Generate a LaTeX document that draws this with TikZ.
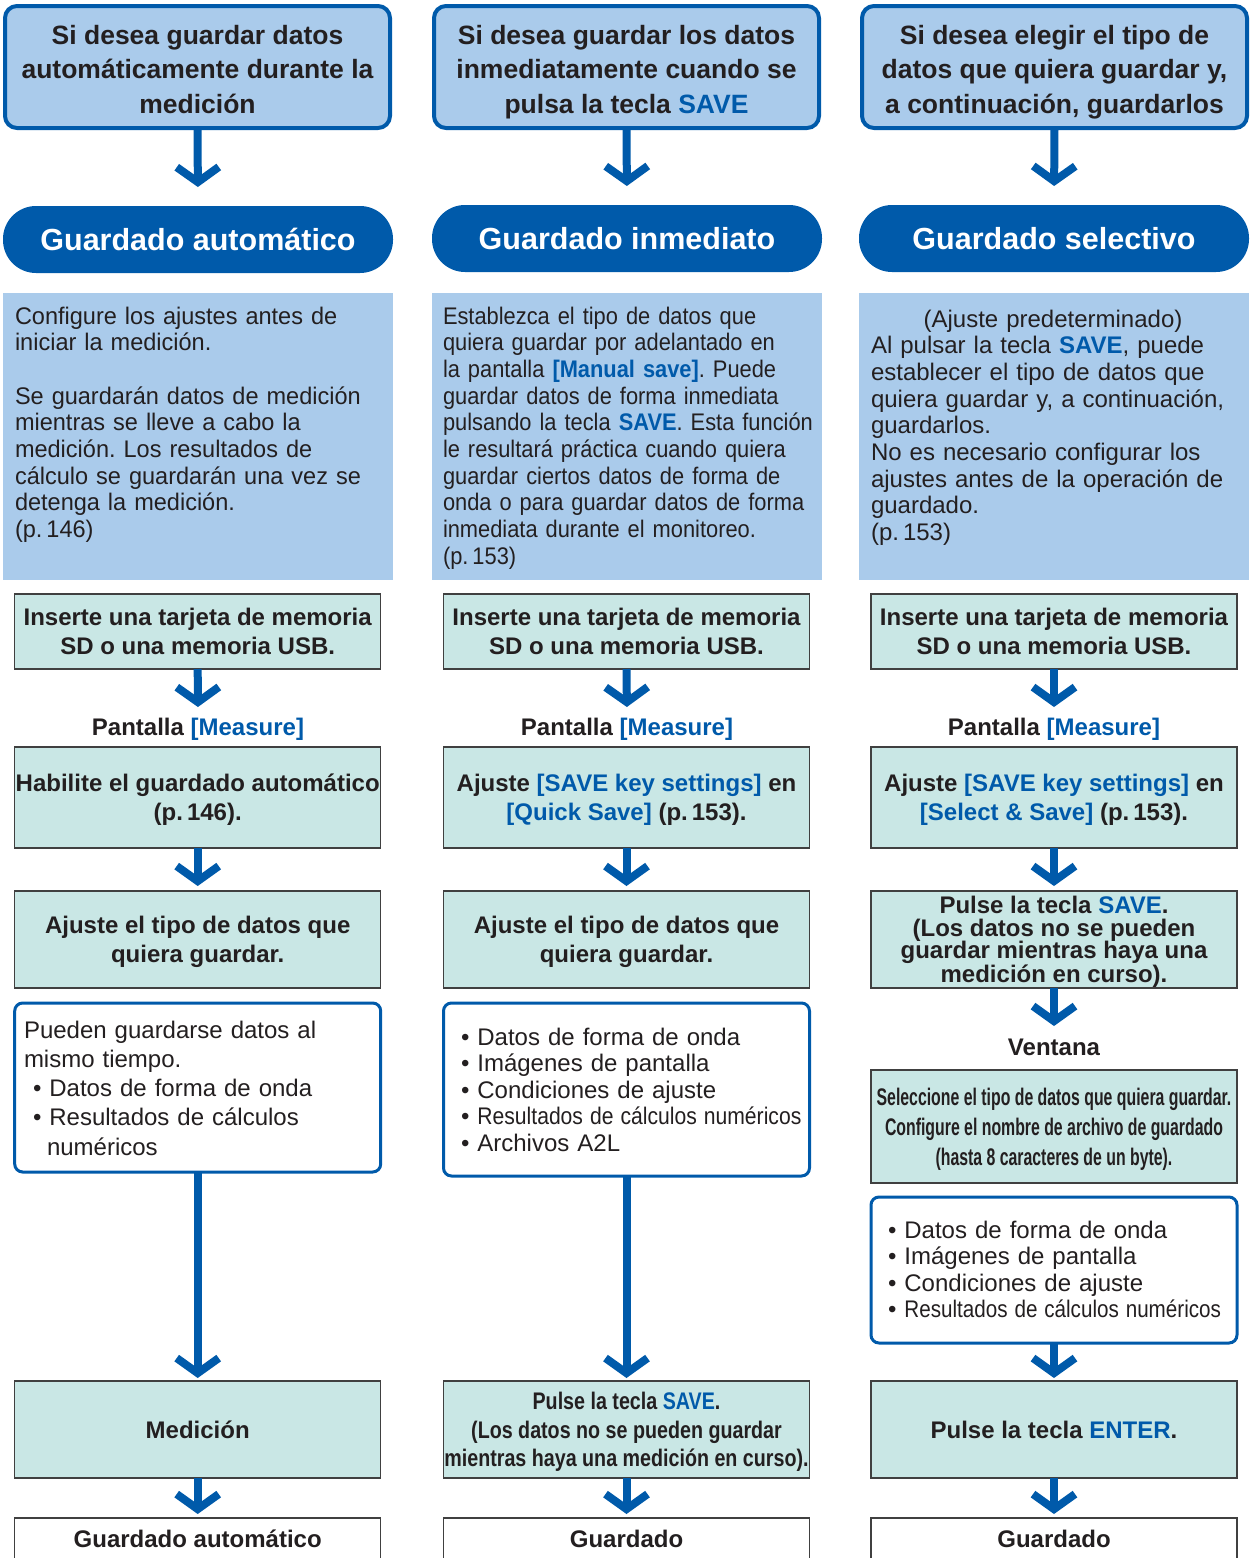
\documentclass[tikz,border=0pt]{standalone}
\usepackage{fontspec}
\usepackage{graphicx}
\setmainfont{Liberation Sans}
\newfontfamily\condfont[FakeStretch=0.66]{Liberation Sans}
\newfontfamily\semicondfont[FakeStretch=0.82]{Liberation Sans}
\newfontfamily\desccondfont[FakeStretch=0.91]{Liberation Sans}
\newfontfamily\descslightfont[FakeStretch=0.98]{Liberation Sans}
\usetikzlibrary{arrows.meta}
\definecolor{dblue}{RGB}{0,90,170}
\definecolor{lblue}{RGB}{170,203,235}
\definecolor{tealbox}{RGB}{201,231,229}
\definecolor{ink}{RGB}{35,31,32}
\definecolor{boxline}{RGB}{64,64,64}
\newcommand{\hl}[1]{\textcolor{dblue}{#1}}
\frenchspacing
\begin{document}
\frenchspacing
\begin{tikzpicture}[x=1pt,y=-1pt,
 every node/.style={text=ink, outer sep=0pt},
 topbox/.style={draw=dblue, line width=4pt, fill=lblue, rounded corners=12pt, minimum width=385pt, minimum height=122pt, anchor=north west, inner sep=0pt},
 toptext/.style={align=center, font=\fontsize{26.5}{34.5}\selectfont\bfseries, inner sep=0pt, text depth=0pt},
 pill/.style={fill=dblue, rounded corners=33pt, minimum width=390pt, minimum height=67pt, anchor=north west, text=white, font=\fontsize{30.5}{36}\selectfont\bfseries, inner sep=0pt},
 descbox/.style={fill=lblue, minimum width=390pt, minimum height=287pt, anchor=north west, inner sep=0pt},
 desctext/.style={anchor=base west, inner sep=0pt, align=left, text width=375pt, font=\fontsize{24}{26.67}\selectfont},
 stepbox/.style={draw=boxline, line width=1.5pt, fill=tealbox, minimum width=366pt, anchor=north west, align=center, font=\fontsize{24}{29}\selectfont\bfseries, inner sep=0pt, text depth=0pt},
 listbox/.style={draw=dblue, line width=3pt, fill=white, rounded corners=8pt, minimum width=366pt, anchor=north west, inner sep=0pt},
 listtext/.style={anchor=base west, inner sep=0pt, align=left, text width=345pt, font=\fontsize{24}{26.6}\selectfont},
 lbl/.style={font=\fontsize{24}{29}\selectfont\bfseries, inner sep=0pt, text height=17pt, text depth=5pt, anchor=base},
 endbox/.style={draw=boxline, line width=1.5pt, fill=white, minimum width=366pt, minimum height=46pt, anchor=north west, font=\fontsize{24}{29}\selectfont\bfseries, inner sep=0pt, text height=17pt, text depth=5pt},
 arr/.style={draw=dblue, line width=8pt, -{Straight Barb[length=15pt,width=42pt]}},
]
\useasboundingbox (0,0) rectangle (1250,1558);
\clip (0,0) rectangle (1250,1558);

% ---------- top boxes
\node[topbox] (t1) at (5,6) {};
\node[topbox] (t2) at (434,6) {};
\node[topbox] (t3) at (862,6) {};
\node[toptext] (t1t) at ([yshift=-2pt]t1.center) {Si desea guardar datos\\automáticamente durante la\\medición};
\node[toptext] (t2t) at ([yshift=-2pt]t2.center) {Si desea guardar los datos\\inmediatamente cuando se\\pulsa la tecla \hl{SAVE}};
\node[toptext] (t3t) at ([yshift=-2pt]t3.center) {Si desea elegir el tipo de\\datos que quiera guardar y,\\a continuación, guardarlos};

% ---------- pills
\node[pill] (p1) at (3,206) {Guardado automático};
\node[pill] (p2) at (432,205) {Guardado inmediato};
\node[pill] (p3) at (859,205) {Guardado selectivo};

% ---------- descriptions
\node[descbox] (d1) at (3,293) {};
\node[descbox] (d2) at (432,293) {};
\node[descbox] (d3) at (859,293) {};
\node[desctext, font=\fontsize{24}{26.67}\descslightfont] (d1t) at (15,324) {Configure los ajustes antes de\\iniciar la medición.\\[26.67pt]Se guardarán datos de medición\\mientras se lleve a cabo la\\medición. Los resultados de\\cálculo se guardarán una vez se\\detenga la medición.\\(p.\,146)};
\node[desctext, text width=405pt, font=\fontsize{24}{26.67}\desccondfont] (d2t) at (443,324) {Establezca el tipo de datos que\\quiera guardar por adelantado en\\la pantalla \textbf{\hl{[Manual save]}}. Puede\\guardar datos de forma inmediata\\pulsando la tecla \textbf{\hl{SAVE}}. Esta función\\le resultará práctica cuando quiera\\guardar ciertos datos de forma de\\onda o para guardar datos de forma\\inmediata durante el monitoreo.\\(p.\,153)};
\node[desctext, text width=364pt] (d3t) at (871,327) {\makebox[\linewidth][c]{(Ajuste predeterminado)}\\Al pulsar la tecla \textbf{\hl{SAVE}}, puede\\establecer el tipo de datos que\\quiera guardar y, a continuación,\\guardarlos.\\No es necesario configurar los\\ajustes antes de la operación de\\guardado.\\(p.\,153)};

% ---------- insert boxes
\node[stepbox, minimum height=75pt] (i1) at (14.7,594) {Inserte una tarjeta de memoria\\SD o una memoria USB.};
\node[stepbox, minimum height=75pt] (i2) at (443.5,594) {Inserte una tarjeta de memoria\\SD o una memoria USB.};
\node[stepbox, minimum height=75pt] (i3) at (871,594) {Inserte una tarjeta de memoria\\SD o una memoria USB.};

% ---------- Pantalla labels
\node[lbl] (m1) at (198,735) {Pantalla \hl{[Measure]}};
\node[lbl] (m2) at (627,735) {Pantalla \hl{[Measure]}};
\node[lbl] (m3) at (1054,735) {Pantalla \hl{[Measure]}};

% ---------- second step boxes
\node[stepbox, minimum height=101pt] (s1) at (14.7,747) {Habilite el guardado automático\\(p.\,146).};
\node[stepbox, minimum height=101pt] (s2) at (443.5,747) {Ajuste \hl{[SAVE key settings]} en\\\hl{[Quick Save]} (p.\,153).};
\node[stepbox, minimum height=101pt] (s3) at (871,747) {Ajuste \hl{[SAVE key settings]} en\\\hl{[Select \& Save]} (p.\,153).};

% ---------- third step boxes
\node[stepbox, minimum height=97pt] (u1) at (14.7,891) {Ajuste el tipo de datos que\\quiera guardar.};
\node[stepbox, minimum height=97pt] (u2) at (443.5,891) {Ajuste el tipo de datos que\\quiera guardar.};
\node[stepbox, minimum height=97pt, font=\fontsize{24}{22.6}\selectfont\bfseries] (u3) at (871,891) {Pulse la tecla \hl{SAVE}.\\(Los datos no se pueden\\guardar mientras haya una\\medición en curso).};

% ---------- Ventana (col 3)
\node[lbl] (v3) at (1054,1055) {Ventana};
\node[stepbox, minimum height=113pt, font=\fontsize{24}{30}\condfont\bfseries] (w3) at (871,1070) {Seleccione el tipo de datos que quiera guardar.\\Configure el nombre de archivo de guardado\\(hasta 8 caracteres de un byte).};

% ---------- list boxes
\node[listbox, minimum height=169pt] (l1) at (14.7,1003) {};
\node[listbox, minimum height=173pt] (l2) at (443.5,1003) {};
\node[listbox, minimum height=146pt] (l3) at (871,1197) {};
\node[listtext, font=\fontsize{24}{29.3}\selectfont] (l1t) at (24,1038) {Pueden guardarse datos al\\mismo tiempo.\\\hspace*{9pt}• Datos de forma de onda\\\hspace*{9pt}• Resultados de cálculos\\\hspace*{23pt}numéricos};
\node[listtext] (l2t) at (461,1045) {• Datos de forma de onda\\• Imágenes de pantalla\\• Condiciones de ajuste\\• \scalebox{0.88}[1]{Resultados de cálculos numéricos}\\• Archivos A2L};
\node[listtext] (l3t) at (888,1238) {• Datos de forma de onda\\• Imágenes de pantalla\\• Condiciones de ajuste\\• \scalebox{0.86}[1]{Resultados de cálculos numéricos}};

% ---------- bottom step boxes
\node[stepbox, minimum height=97pt] (b1) at (14.7,1381) {Medición};
\node[stepbox, minimum height=97pt, font=\fontsize{24}{28.5}\semicondfont\bfseries] (b2) at (443.5,1381) {Pulse la tecla \hl{SAVE}.\\(Los datos no se pueden guardar\\mientras haya una medición en curso).};
\node[stepbox, minimum height=97pt] (b3) at (871,1381) {Pulse la tecla \hl{ENTER}.};

% ---------- end boxes
\node[endbox] (e1) at (14.7,1518) {Guardado automático};
\node[endbox] (e2) at (443.5,1518) {Guardado};
\node[endbox] (e3) at (871,1518) {Guardado};

% ---------- connectors
\foreach \c in {1,2,3}{
  \draw[arr, shorten >=19pt] (t\c.south) -- (p\c.north);
  \draw[arr, shorten >=11pt] (i\c.south) -- (m\c.north);
  \draw[arr, shorten >=5pt] (s\c.south) -- (u\c.north);
  \draw[arr, shorten >=3pt] (l\c.south) -- (b\c.north);
  \draw[arr, shorten >=4pt] (b\c.south) -- (e\c.north);
}
\draw[arr, shorten >=12pt] (u3.south) -- (v3.north);
\end{tikzpicture}
\end{document}
